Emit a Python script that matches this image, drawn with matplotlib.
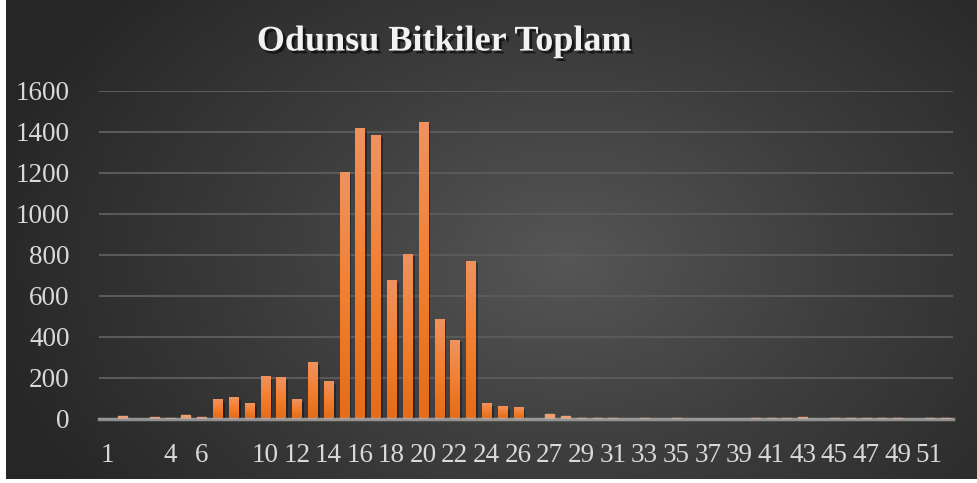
import numpy as np
import matplotlib
matplotlib.use('Agg')
import matplotlib.pyplot as plt
from matplotlib.colors import LinearSegmentedColormap
import matplotlib.patheffects as pe

# category names (every other one is shown on the axis)
categories = ['1', '2', '', '3', '4', '5', '6', '7', '', '9',
              '10', '11', '12', '13', '14', '15', '16', '17', '18', '19',
              '20', '21', '22', '23', '24', '25', '26', '', '27', '28',
              '29', '30', '31', '32', '33', '34', '35', '36', '37', '38',
              '39', '40', '41', '42', '43', '44', '45', '46', '47', '48',
              '49', '50', '51', '52']
values = [0, 11, 0, 6, 2, 16, 6, 89, 99, 70,
          202, 197, 89, 270, 177, 1200, 1414, 1380, 670, 800,
          1442, 483, 380, 766, 70, 55, 50, 0, 20, 10,
          1, 1, 1, 0, 1, 0, 1, 0, 0, 0,
          0, 1, 1, 1, 5, 0, 1, 1, 1, 1,
          1, 0, 1, 1]
yticks = [0, 200, 400, 600, 800, 1000, 1200, 1400, 1600]
title = 'Odunsu Bitkiler Toplam'

plt.rcParams['font.family'] = ['Liberation Serif', 'DejaVu Serif']

W, H = 977, 483
fig = plt.figure(figsize=(W / 100, H / 100), dpi=100, facecolor='white')

# dark radial background
bg = fig.add_axes([6 / W, 4 / H, 971 / W, 479 / H])
bg.set_axis_off()
yy, xx = np.mgrid[0:479, 0:971]
d = np.sqrt(((xx - 560) / 600.0) ** 2 + ((yy - 260) / 420.0) ** 2)
d = np.clip(d, 0, 1)
bg_cmap = LinearSegmentedColormap.from_list('bg', ['#565656', '#3c3c3c', '#262626'])
bg.imshow(d, cmap=bg_cmap, aspect='auto', vmin=0, vmax=1, interpolation='bilinear')

ax = fig.add_axes([99 / W, (H - 418.5) / H, 854 / W, 327.8 / H])
ax.patch.set_alpha(0)

x = np.arange(len(values))
bw = 0.57
bars = ax.bar(x, values, width=bw, color='#F07F30', zorder=3)
bar_cmap = LinearSegmentedColormap.from_list('bar', ['#E46C1A', '#F47F2E', '#F0925E'])
grad = np.linspace(0, 1, 64).reshape(-1, 1)
for b in bars:
    h = b.get_height()
    if h <= 0:
        continue
    if h > 20:
        b.set_path_effects([pe.SimplePatchShadow(offset=(2, -1), alpha=0.35, shadow_rgbFace='black'),
                            pe.Normal()])
        ax.imshow(grad, extent=[b.get_x(), b.get_x() + bw, 0, h], origin='lower',
                  cmap=bar_cmap, aspect='auto', zorder=4, interpolation='bilinear')
    else:
        b.set_color('#F0A070')

ax.set_xlim(-0.5, len(values) - 0.5)
ax.set_ylim(0, 1600)
ax.set_yticks(yticks)
ax.set_yticklabels([str(v) for v in yticks])
ax.set_xticks(x[::2])
ax.set_xticklabels(categories[::2])

ax.grid(axis='y', color='#5a5a5a', linewidth=1.5, zorder=1)
ax.set_axisbelow(True)
for s in ['top', 'right', 'left']:
    ax.spines[s].set_visible(False)
ax.spines['bottom'].set_color('#b0b0b0')
ax.spines['bottom'].set_alpha(0.75)
ax.spines['bottom'].set_linewidth(2.5)
ax.spines['bottom'].set_zorder(5)

ax.tick_params(axis='both', length=0, colors='#d9d9d9', labelsize=19.5)
ax.tick_params(axis='y', pad=21)
ax.tick_params(axis='x', pad=18)

fig.text(0.455, 0.913, title, ha='center', va='center', fontsize=26,
         fontweight='bold', color='#f2f2f2',
         path_effects=[pe.withSimplePatchShadow(offset=(2, -2), alpha=0.6, shadow_rgbFace='black')])

plt.savefig('out.png', dpi=100)
